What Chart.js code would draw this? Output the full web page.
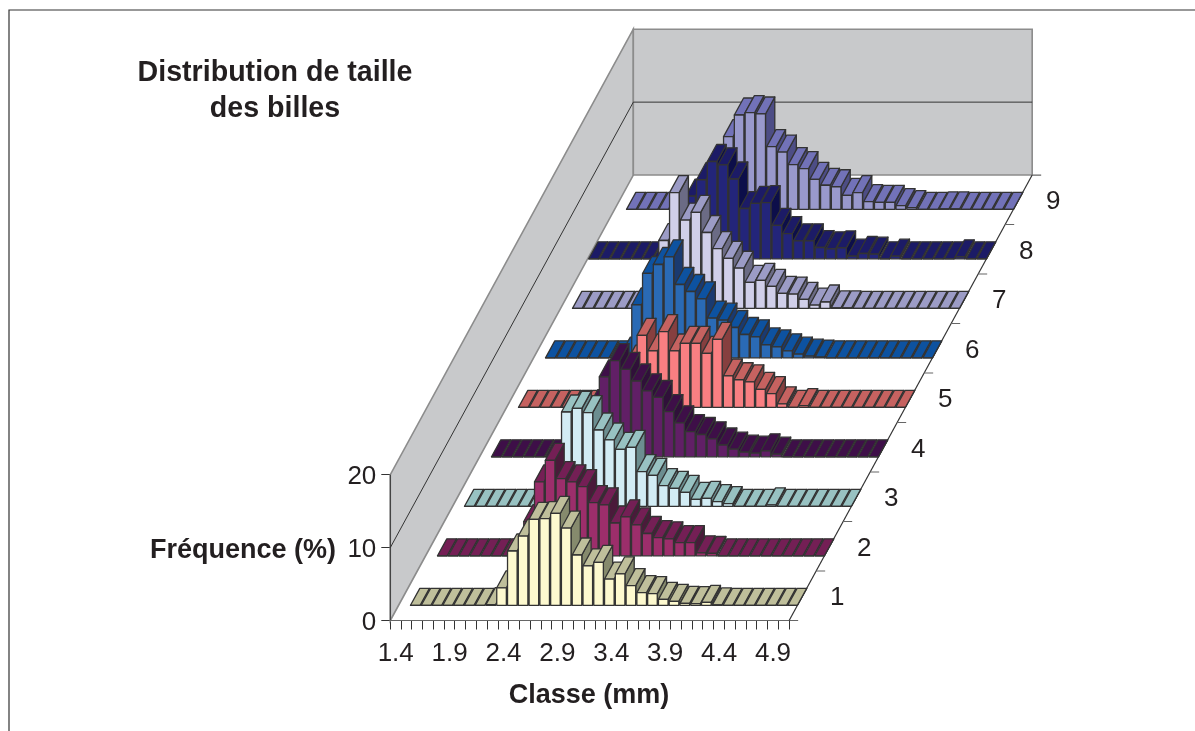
<!DOCTYPE html>
<html>
<head>
<meta charset="utf-8">
<title>Distribution de taille des billes</title>
<script src="https://cdn.jsdelivr.net/npm/chart.js@4"></script>
<style>
    html, body { margin: 0; padding: 0; background: #fff; }
    canvas { display: block; }
</style>
</head>
<body>
<canvas id="bead-chart" width="1195" height="731"></canvas>
<script>
// classes (mm) and tick labels
var classes = [1.4, 1.5, 1.6, 1.7, 1.8, 1.9, 2.0, 2.1, 2.2, 2.3, 2.4, 2.5, 2.6, 2.7, 2.8, 2.9, 3.0, 3.1, 3.2,
    3.3, 3.4, 3.5, 3.6, 3.7, 3.8, 3.9, 4.0, 4.1, 4.2, 4.3, 4.4, 4.5, 4.6, 4.7, 4.8, 4.9, 5.0];
var classLabels = ["1.4", "1.9", "2.4", "2.9", "3.4", "3.9", "4.4", "4.9"];
var freqTicks = [0, 10, 20];
var seriesNames = ["1", "2", "3", "4", "5", "6", "7", "8", "9"];

// frequency (%) per class, one list per series, null = no bar
var series1 = [null, 0, 0, 0, 0, 0, 0, 0, 0.1, 2.4, 7.45, 9.5, 11.8, 11.9, 12.6, 10.6, 6.9, 5.4, 5.9, 3.6, 4.3, 2.7, 1.74, 1.6, 0.82, 0.55, 0.27, 0.23, 0.41, 0.05, 0, 0, 0, 0, 0, 0, 0];
var series2 = [null, 0, 0, 0, 0, 0, 0, 0, 0.1, 4.7, 10.15, 13.1, 10.6, 10.15, 9.5, 7.3, 7.0, 4.5, 5.35, 4.25, 3.06, 2.5, 2.33, 1.8, 1.8, 0.41, 0.32, 0, 0, 0, 0, 0, 0, 0, 0, 0, 0];
var series3 = [null, 0, 0, 0, 0, 0, 0, 0, 0, 0.5, 12.94, 13.44, 12.85, 10.47, 9.1, 7.82, 8.09, 4.76, 4.25, 2.83, 2.47, 1.9, 0.96, 1.1, 0.64, 0.37, 0, 0, 0, 0.2, 0, 0, 0, 0, 0, 0, 0];
var series4 = [null, 0, 0, 0, 0, 0, 0, 0, 0, 0.5, 6.9, 10.97, 13.2, 12.0, 10.4, 9.05, 8.14, 6.2, 4.66, 3.45, 3.06, 2.47, 1.62, 1.05, 0.64, 0.5, 0.82, 0.37, 0, 0, 0, 0, 0, 0, 0, 0, 0];
var series5 = [null, 0, 0, 0, 0, 0, 0, 0, 0, 0, 0.8, 6.2, 9.88, 7.73, 10.38, 7.73, 8.78, 8.78, 7.4, 9.33, 4.3, 3.78, 3.5, 2.45, 1.87, 0.48, 0, 0.23, 0, 0, 0, 0, 0, 0, 0, 0, 0];
var series6 = [null, 0, 0, 0, 0, 0, 0, 0, 0.5, 7.25, 11.57, 12.8, 13.85, 10.06, 9.1, 8.09, 5.45, 5.17, 4.16, 3.2, 2.88, 1.77, 1.5, 0.96, 0.5, 0.23, 0.1, 0, 0, 0, 0, 0, 0, 0, 0, 0, 0];
var series7 = [null, 0, 0, 0, 0, 0, 0, 0, 0.3, 9.3, 15.87, 12.1, 13.17, 10.4, 8.2, 6.86, 5.5, 3.57, 3.84, 3.0, 2.06, 1.95, 1.23, 0.45, 0.87, 0.05, 0.05, 0, 0, 0, 0, 0, 0, 0, 0, 0, 0];
var series8 = [0, 0, 0, 0, 0, 0, 0, 0, 0.5, 8.6, 10.85, 13.35, 12.9, 10.95, 6.9, 7.6, 7.7, 4.6, 3.47, 2.47, 2.47, 1.55, 1.37, 1.5, 0.37, 0.73, 0.64, 0, 0.37, 0, 0, 0, 0, 0, 0.27, 0, 0];
var series9 = [null, 0, 0, 0, 0, 0, 0, 0, 0, 2, 9.97, 12.94, 13.26, 13.08, 8.6, 7.86, 6.13, 5.58, 4.1, 3.3, 3.1, 1.92, 2.29, 1.05, 0.96, 0.96, 0.5, 0.23, 0, 0, 0.05, 0.05, 0, 0, 0, 0, 0];
var allSeries = [series1, series2, series3, series4, series5, series6, series7, series8, series9];

// front, top and side colours of the bars
var frontColors = ["#fdf9cf", "#9c2e6b", "#d2ecf4", "#611f66", "#f97f82", "#2a6ab5", "#d0cfe9", "#23257a", "#9999cc"];
var topColors = ["#bfbf9b", "#741f55", "#98c2c2", "#3e0f48", "#c66260", "#0d52a0", "#9c9cc6", "#1c1b66", "#7272b8"];
var sideColors = ["#868a6d", "#4a1a3a", "#6c8e90", "#30103a", "#863f3f", "#1a3a70", "#6b6b85", "#0c0e4a", "#4d4d85"];

// oblique projection, in axis units (mm on x, % on y)
var stepX = 0.2505;     // from one series to the next
var stepY = 6.79;
var frontX = 0.082;     // front of a bar inside its slot
var frontY = 2.085;
var depthX = 0.0863;    // depth of a bar
var depthY = 2.33;
var firstEdge = 1.35;
var lastEdge = 5.05;

var textColor = "#231f20";
var fontFamily = "'Liberation Sans', Arial, sans-serif";

class Bar3DController extends Chart.BarController {
    draw() {
        var ctx = this.chart.ctx;
        var ds = this.getDataset();
        var x = this.chart.scales.x;
        var y = this.chart.scales.y;
        var dx = x.getPixelForValue(firstEdge + depthX) - x.getPixelForValue(firstEdge);
        var dy = y.getPixelForValue(0) - y.getPixelForValue(depthY);
        ctx.save();
        ctx.lineWidth = 1.3;
        ctx.lineJoin = "round";
        ctx.strokeStyle = "#333333";
        this._cachedMeta.data.forEach(function (bar) {
            var left = bar.x - bar.width / 2;
            var right = bar.x + bar.width / 2;
            var top = bar.y;
            var base = bar.base;
            // side
            ctx.fillStyle = ds.sideColor;
            ctx.beginPath();
            ctx.moveTo(right, base);
            ctx.lineTo(right, top);
            ctx.lineTo(right + dx, top - dy);
            ctx.lineTo(right + dx, base - dy);
            ctx.closePath();
            ctx.fill();
            ctx.stroke();
            // top
            ctx.fillStyle = ds.topColor;
            ctx.beginPath();
            ctx.moveTo(left, top);
            ctx.lineTo(left + dx, top - dy);
            ctx.lineTo(right + dx, top - dy);
            ctx.lineTo(right, top);
            ctx.closePath();
            ctx.fill();
            ctx.stroke();
            // front
            ctx.fillStyle = ds.backgroundColor;
            ctx.beginPath();
            ctx.rect(left, top, right - left, base - top);
            ctx.fill();
            ctx.stroke();
        });
        ctx.restore();
    }
}
Bar3DController.id = "bar3d";
Bar3DController.defaults = Chart.BarController.defaults;
Chart.register(Bar3DController);

function buildDatasets() {
    return allSeries.map(function (values, s) {
        var points = [];
        for (var i = 0; i < classes.length; i++) {
            if (values[i] === null) continue;
            var floor = s * stepY + frontY;
            points.push({ x: classes[i] + s * stepX + frontX, y: [floor, floor + values[i]] });
        }
        return {
            label: seriesNames[s],
            data: points,
            backgroundColor: frontColors[s],
            topColor: topColors[s],
            sideColor: sideColors[s],
            grouped: false,
            barThickness: 9.6,
            clip: false
        };
    });
}

// walls, floor edges, depth axis and the loose texts
var scenePlugin = {
    id: "scene",
    beforeDatasetsDraw: function (chart) {
        var ctx = chart.ctx;
        var x = chart.scales.x;
        var y = chart.scales.y;
        var depth = seriesNames.length;
        var x0 = x.getPixelForValue(firstEdge);
        var x1 = x.getPixelForValue(lastEdge);
        var xb0 = x.getPixelForValue(firstEdge + depth * stepX);
        var xb1 = x.getPixelForValue(lastEdge + depth * stepX);
        var y0 = y.getPixelForValue(0);
        var yb = y.getPixelForValue(depth * stepY);
        var wall = y0 - y.getPixelForValue(20);
        var mid = y0 - y.getPixelForValue(10);

        ctx.save();
        // frame
        ctx.strokeStyle = "#333333";
        ctx.lineWidth = 1.2;
        ctx.beginPath();
        ctx.moveTo(9, 731);
        ctx.lineTo(9, 10);
        ctx.lineTo(1195, 10);
        ctx.stroke();

        // walls
        ctx.fillStyle = "#c8c9cb";
        ctx.strokeStyle = "#8c8c8c";
        ctx.lineWidth = 1.6;
        ctx.beginPath();
        ctx.moveTo(x0, y0);
        ctx.lineTo(x0, y0 - wall);
        ctx.lineTo(xb0, yb - wall);
        ctx.lineTo(xb0, yb);
        ctx.closePath();
        ctx.fill();
        ctx.stroke();
        ctx.beginPath();
        ctx.rect(xb0, yb - wall, xb1 - xb0, wall);
        ctx.fill();
        ctx.stroke();

        // gridline at 10 and the upright axis
        ctx.strokeStyle = "#333333";
        ctx.lineWidth = 1;
        ctx.beginPath();
        ctx.moveTo(x0, y0 - mid);
        ctx.lineTo(xb0, yb - mid);
        ctx.lineTo(xb1, yb - mid);
        ctx.moveTo(x0, y0);
        ctx.lineTo(x0, y0 - wall);
        ctx.stroke();

        // front edge of the floor
        ctx.strokeStyle = "#666666";
        ctx.lineWidth = 1.2;
        ctx.beginPath();
        ctx.moveTo(x0, y0);
        ctx.lineTo(x1 + 9, y0);
        ctx.stroke();

        // depth axis with its ticks
        ctx.strokeStyle = "#333333";
        ctx.lineWidth = 1.2;
        ctx.beginPath();
        ctx.moveTo(x1, y0);
        ctx.lineTo(xb1, yb);
        ctx.stroke();
        ctx.strokeStyle = "#666666";
        ctx.beginPath();
        for (var k = 1; k <= depth; k++) {
            var tx = x.getPixelForValue(lastEdge + k * stepX);
            var ty = y.getPixelForValue(k * stepY);
            ctx.moveTo(tx, ty);
            ctx.lineTo(tx + 9, ty);
        }
        ctx.stroke();

        // series names along the depth axis
        ctx.fillStyle = textColor;
        ctx.font = "26px " + fontFamily;
        ctx.textAlign = "center";
        ctx.textBaseline = "middle";
        seriesNames.forEach(function (name, s) {
            var lx = x.getPixelForValue(lastEdge + (s + 0.5) * stepX) + 34.5;
            var ly = y.getPixelForValue((s + 0.5) * stepY) + 2.5;
            ctx.fillText(name, lx, ly);
        });

        // titles
        ctx.font = "bold 28.6px " + fontFamily;
        ctx.fillText("Distribution de taille", 275, 73);
        ctx.fillText("des billes", 275, 109);
        ctx.font = "bold 27px " + fontFamily;
        ctx.fillText("Fréquence (%)", 243, 551);
        ctx.fillText("Classe (mm)", 589, 696);
        ctx.restore();
    }
};

var ctx = document.getElementById("bead-chart").getContext("2d");
var beadChart = new Chart(ctx, {
    type: "bar3d",
    data: { datasets: buildDatasets() },
    plugins: [scenePlugin],
    options: {
        responsive: false,
        animation: false,
        events: [],
        layout: { padding: 0 },
        plugins: {
            legend: { display: false },
            title: { display: false },
            tooltip: { enabled: false }
        },
        scales: {
            x: {
                type: "linear",
                offset: false,
                min: firstEdge,
                max: 8.815,
                border: { display: false },
                grid: { offset: false, drawOnChartArea: false, drawTicks: true, tickLength: 9, color: "#333333" },
                afterBuildTicks: function (scale) {
                    var edges = classes.map(function (c) { return { value: c - 0.05 }; });
                    edges.push({ value: lastEdge });
                    scale.ticks = edges;
                },
                afterFit: function (scale) {
                    scale.height = 110.5;
                    scale.paddingLeft = 0;
                    scale.paddingRight = 0;
                },
                ticks: {
                    autoSkip: false,
                    maxRotation: 0,
                    minRotation: 0,
                    labelOffset: 5.4,
                    padding: 9,
                    color: textColor,
                    font: { family: fontFamily, size: 26 },
                    callback: function (value, index) {
                        return index % 5 === 0 && classLabels[index / 5] ? classLabels[index / 5] : "";
                    }
                }
            },
            y: {
                type: "linear",
                min: 0,
                max: 85.12,
                border: { display: false },
                grid: { drawOnChartArea: false, drawTicks: true, tickLength: 9, color: "#333333" },
                afterBuildTicks: function (scale) {
                    scale.ticks = freqTicks.map(function (v) { return { value: v }; });
                },
                afterFit: function (scale) {
                    scale.width = 390.3;
                    scale.paddingTop = 0;
                    scale.paddingBottom = 0;
                },
                ticks: {
                    padding: 5,
                    labelOffset: 2,
                    color: textColor,
                    font: { family: fontFamily, size: 26 }
                }
            }
        }
    }
});
</script>
</body>
</html>
